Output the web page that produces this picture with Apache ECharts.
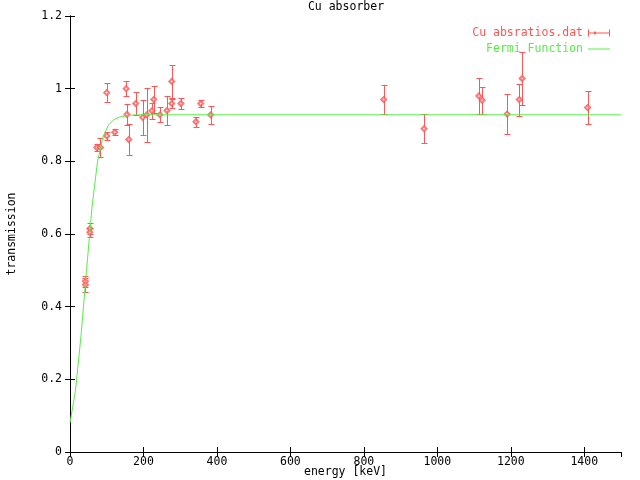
<!DOCTYPE html>
<html>
<head>
<meta charset="utf-8">
<script src="https://cdn.jsdelivr.net/npm/echarts@6/dist/echarts.min.js"></script>
<style>
html,body{margin:0;padding:0;background:#fff;}
#chart{width:640px;height:480px;}
</style>
</head>
<body>
<div id="chart"></div>
<script>
// measured data: energy [keV], transmission, error
const energy = [42, 42, 54, 54, 73, 83, 100, 100, 122, 153, 155, 160, 179, 198, 209, 223, 228, 245, 264, 277, 277, 302, 343, 356, 383, 854, 964, 1113, 1122, 1190, 1223, 1231, 1409];
const transmission = [0.46, 0.47, 0.615, 0.605, 0.838, 0.838, 0.989, 0.87, 0.88, 1.0, 0.929, 0.86, 0.959, 0.921, 0.928, 0.939, 0.97, 0.928, 0.94, 1.02, 0.959, 0.959, 0.909, 0.959, 0.928, 0.97, 0.89, 0.98, 0.968, 0.93, 0.97, 1.028, 0.948];
const errors = [0.02, 0.015, 0.016, 0.012, 0.01, 0.026, 0.026, 0.011, 0.008, 0.02, 0.03, 0.042, 0.032, 0.048, 0.075, 0.022, 0.038, 0.021, 0.041, 0.046, 0.012, 0.014, 0.014, 0.009, 0.025, 0.04, 0.04, 0.05, 0.037, 0.054, 0.044, 0.072, 0.045];
// Fermi function curve
const fermiE = [0, 15, 30, 45, 60, 75, 90, 105, 120, 135, 150, 165, 180, 210, 240, 300, 1500];
const fermiT = [0.08, 0.17, 0.32, 0.5, 0.675, 0.8, 0.868, 0.9, 0.915, 0.922, 0.925, 0.927, 0.928, 0.928, 0.928, 0.928, 0.928];
const xTicks = [0, 200, 400, 600, 800, 1000, 1200, 1400];
const yTicks = ['0', '0.2', '0.4', '0.6', '0.8', '1', '1.2'];

const RED = '#ff5555';
const GREEN = '#55ee44';
const FONT = 'DejaVu Sans Mono';
const FS = 11.5;

const errData = energy.map((e, i) => [e, transmission[i], errors[i]]);
const ptData = energy.map((e, i) => [e, transmission[i]]);
const fermiData = fermiE.map((e, i) => [e, fermiT[i]]);

const chart = echarts.init(document.getElementById('chart'), null, {renderer: 'canvas'});

const axisText = {fontFamily: FONT, fontSize: FS, color: '#000'};

function errRender(params, api) {
  const x = api.value(0), y = api.value(1), e = api.value(2);
  const top = api.coord([x, y + e]);
  const bot = api.coord([x, y - e]);
  const cx = Math.round(top[0]) + 0.5;
  const ty = Math.round(top[1]) + 0.5;
  const by = Math.round(bot[1]) + 0.5;
  const hw = 3;
  const st = {stroke: RED, lineWidth: 1, fill: null};
  return {
    type: 'group',
    children: [
      {type: 'line', shape: {x1: cx, y1: ty, x2: cx, y2: by}, style: st},
      {type: 'line', shape: {x1: cx - hw, y1: ty, x2: cx + hw, y2: ty}, style: st},
      {type: 'line', shape: {x1: cx - hw, y1: by, x2: cx + hw, y2: by}, style: st}
    ]
  };
}

const option = {
  animation: false,
  backgroundColor: '#fff',
  title: {
    text: 'Cu absorber',
    left: 346,
    textAlign: 'center',
    top: 1,
    padding: 0,
    textStyle: {fontFamily: FONT, fontSize: FS, fontWeight: 'normal', color: '#000'}
  },
  legend: {
    orient: 'vertical',
    right: 30,
    top: 27,
    padding: 0,
    align: 'right',
    itemWidth: 22,
    itemHeight: 7,
    itemGap: 4,
    textStyle: {fontFamily: FONT, fontSize: FS},
    data: [
      {name: 'Cu absratios.dat', icon: 'path://M0,0h1v7h-1z M0,3h22v1h-22z M21,0h1v7h-1z M7,1.5L8.5,3.5L7,5.5L5.5,3.5z', itemStyle: {color: RED}, textStyle: {color: RED}},
      {name: 'Fermi Function', icon: 'path://M0,3h22v1h-22z', itemStyle: {color: GREEN}, textStyle: {color: GREEN}}
    ]
  },
  grid: {left: 70, right: 19, top: 16, bottom: 28, containLabel: false, outerBoundsMode: 'none'},
  xAxis: [
    {
      type: 'value', position: 'bottom', min: 0, max: 1500, interval: 200,
      name: 'energy [keV]', nameLocation: 'middle', nameGap: 14, nameMoveOverlap: false,
      nameTextStyle: axisText,
      axisLine: {show: true, lineStyle: {color: '#000', width: 1}},
      axisTick: {show: true, inside: true, length: 5, lineStyle: {color: '#000'}},
      splitLine: {show: false},
      axisLabel: Object.assign({margin: 4, showMaxLabel: false,
        formatter: v => xTicks.indexOf(v) >= 0 ? String(v) : ''}, axisText)
    },
    {
      type: 'value', position: 'top', min: 0, max: 1500, interval: 200,
      axisLine: {show: true, lineStyle: {color: '#000', width: 1}},
      axisTick: {show: true, inside: true, length: 5, lineStyle: {color: '#000'}},
      splitLine: {show: false},
      axisLabel: {show: false}
    }
  ],
  yAxis: [
    {
      type: 'value', position: 'left', min: 0, max: 1.2, interval: 0.2,
      name: 'transmission', nameLocation: 'middle', nameGap: 52, nameRotate: 90, nameMoveOverlap: false,
      nameTextStyle: axisText,
      axisLine: {show: true, lineStyle: {color: '#000', width: 1}},
      axisTick: {show: true, inside: true, length: 5, lineStyle: {color: '#000'}},
      splitLine: {show: false},
      axisLabel: Object.assign({margin: 8,
        formatter: (v, i) => yTicks[Math.round(v / 0.2)] || ''}, axisText)
    },
    {
      type: 'value', position: 'right', min: 0, max: 1.2, interval: 0.2,
      axisLine: {show: true, lineStyle: {color: '#000', width: 1}},
      axisTick: {show: true, inside: true, length: 5, lineStyle: {color: '#000'}},
      splitLine: {show: false},
      axisLabel: {show: false}
    }
  ],
  series: [
    {
      name: 'Cu absratios.dat',
      type: 'custom',
      xAxisIndex: 0, yAxisIndex: 0,
      renderItem: errRender,
      encode: {x: 0, y: 1},
      itemStyle: {color: RED},
      data: errData,
      z: 2
    },
    {
      name: 'Cu absratios.dat',
      type: 'scatter',
      xAxisIndex: 0, yAxisIndex: 0,
      symbol: 'emptyDiamond',
      symbolSize: [5, 5],
      itemStyle: {color: RED, borderColor: RED, borderWidth: 1},
      data: ptData,
      z: 3
    },
    {
      name: 'Fermi Function',
      type: 'line',
      xAxisIndex: 0, yAxisIndex: 0,
      showSymbol: false,
      symbol: 'none',
      smooth: false,
      lineStyle: {color: GREEN, width: 1},
      itemStyle: {color: GREEN},
      data: fermiData,
      z: 4
    }
  ]
};
chart.setOption(option);
</script>
</body>
</html>
